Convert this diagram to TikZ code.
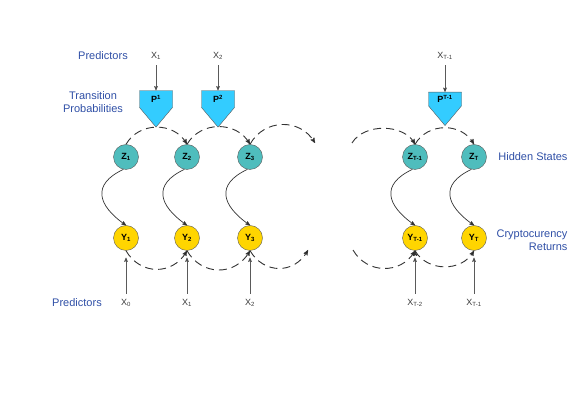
\documentclass[tikz,border=0pt]{standalone}
\usepackage{fontspec}
\setmainfont{Liberation Sans}
\usepackage{xcolor}
\usetikzlibrary{arrows,shapes.symbols}

\definecolor{zteal}{HTML}{4FBDBD}
\definecolor{ygold}{HTML}{FFD500}
\definecolor{pblue}{HTML}{33CCFF}
\definecolor{rimgray}{HTML}{5A5A5A}
\definecolor{labelblue}{HTML}{2F4FA6}
\definecolor{xgray}{HTML}{3A3A3A}
\definecolor{arcgray}{HTML}{333333}

\begin{document}
\begin{tikzpicture}[>=stealth',x=1pt,y=1pt,node distance=81pt,
    hidden node/.style={circle,draw=rimgray,fill=zteal,minimum size=25pt,inner sep=0pt,
      font=\fontsize{9}{10}\selectfont\bfseries},
    return node/.style={hidden node,fill=ygold},
    prob node/.style={signal,signal to=south,signal pointer angle=80,draw=rimgray,fill=pblue,
      minimum width=33pt,minimum height=24pt,inner sep=1pt,font=\fontsize{9}{10}\selectfont\bfseries},
    pred/.style={text=xgray,font=\fontsize{9}{10}\selectfont},
    side/.style={text=labelblue,font=\fontsize{11}{13}\selectfont},
    emit/.style={->,draw=arcgray,line width=0.7pt},
    dash arc/.style={->,dash pattern=on 8pt off 5pt,line width=0.9pt,draw=arcgray}]

  \useasboundingbox (0,0) rectangle (585,414);

  % hidden states and returns
  \node[hidden node] (z1) at (126,257) {Z\textsubscript{1}};
  \node[hidden node] (z2) at (187,257) {Z\textsubscript{2}};
  \node[hidden node] (z3) at (250,257) {Z\textsubscript{3}};
  \node[hidden node] (zt1) at (415,257) {Z\textsubscript{T-1}};
  \node[hidden node] (zt) at (474,257) {Z\textsubscript{T}};

  \node[return node] (y1) [below of=z1] {Y\textsubscript{1}};
  \node[return node] (y2) [below of=z2] {Y\textsubscript{2}};
  \node[return node] (y3) [below of=z3] {Y\textsubscript{3}};
  \node[return node] (yt1) [below of=zt1] {Y\textsubscript{T-1}};
  \node[return node] (yt) [below of=zt] {Y\textsubscript{T}};

  % transition probabilities
  \node[prob node] (p1) at (156,315) {P\textsuperscript{1}};
  \node[prob node] (p2) at (218,315) {P\textsuperscript{2}};
  \node[prob node] (pt1) at (445,315) {P\textsuperscript{T-1}};

  % predictors
  \node[pred] (xa1) at (156,358) {X\textsubscript{1}};
  \node[pred] (xa2) at (218,358) {X\textsubscript{2}};
  \node[pred] (xat1) at (445,358) {X\textsubscript{T-1}};

  \node[pred] (xb0) [below of=y1,node distance=65pt] {X\textsubscript{0}};
  \node[pred] (xb1) [below of=y2,node distance=65pt] {X\textsubscript{1}};
  \node[pred] (xb2) [below of=y3,node distance=65pt] {X\textsubscript{2}};
  \node[pred] (xbt2) [below of=yt1,node distance=65pt] {X\textsubscript{T-2}};
  \node[pred] (xbt1) [below of=yt,node distance=65pt] {X\textsubscript{T-1}};

  % side labels
  \node[side] (lpred) at (103,358) {Predictors};
  \node[side,align=center] (ltrans) at (93,312) {Transition\\Probabilities};
  \node[side,anchor=east] (lhid) at (571,257) {Hidden States};
  \node[side,align=right,anchor=east] (lret) at (571,174) {Cryptocurency\\Returns};
  \node[side] (lpredb) at (77,111) {Predictors};

  \coordinate (za) at (315,271);
  \coordinate (zb) at (352,271);
  \coordinate (ya) at (308,164);
  \coordinate (yb) at (353,164);

  \path[->,draw=rimgray,line width=0.6pt,shorten <=2pt]
    (xa1) edge (p1)
    (xa2) edge (p2)
    (xat1) edge (pt1)
    (xb0) edge[shorten >=7pt] (y1)
    (xb1) edge[shorten >=7pt] (y2)
    (xb2) edge[shorten >=7pt] (y3)
    (xbt2) edge[shorten >=7pt] (yt1)
    (xbt1) edge[shorten >=7pt] (yt);

  \draw[emit] (z1.258) to[out=205,in=145,looseness=1.6] (y1.north);
  \draw[emit] (z2.258) to[out=205,in=145,looseness=1.6] (y2.north);
  \draw[emit] (z3.258) to[out=205,in=145,looseness=1.6] (y3.north);
  \draw[emit] (zt1.258) to[out=205,in=145,looseness=1.6] (yt1.north);
  \draw[emit] (zt.258) to[out=205,in=145,looseness=1.6] (yt.north);

  \path[dash arc]
    (z1.north) edge[bend left=60,looseness=1.1] (z2.north)
    (z2.north) edge[bend left=60,looseness=1.1] (z3.north)
    (z3.north) edge[bend left=60,looseness=1.15] (za)
    (zb) edge[bend left=60,looseness=0.95] (zt1.north)
    (zt1.north) edge[bend left=60,looseness=1.1] (zt.north)
    (y1.south) edge[bend right=60,looseness=1.2] (y2.south)
    (y2.south) edge[bend right=60,looseness=1.2] (y3.south)
    (y3.south) edge[bend right=60,looseness=1.22] (ya)
    (yb) edge[bend right=60,looseness=1.14] (yt1.south)
    (yt1.south) edge[bend right=60,looseness=1.07] (yt.south);
\end{tikzpicture}
\end{document}
